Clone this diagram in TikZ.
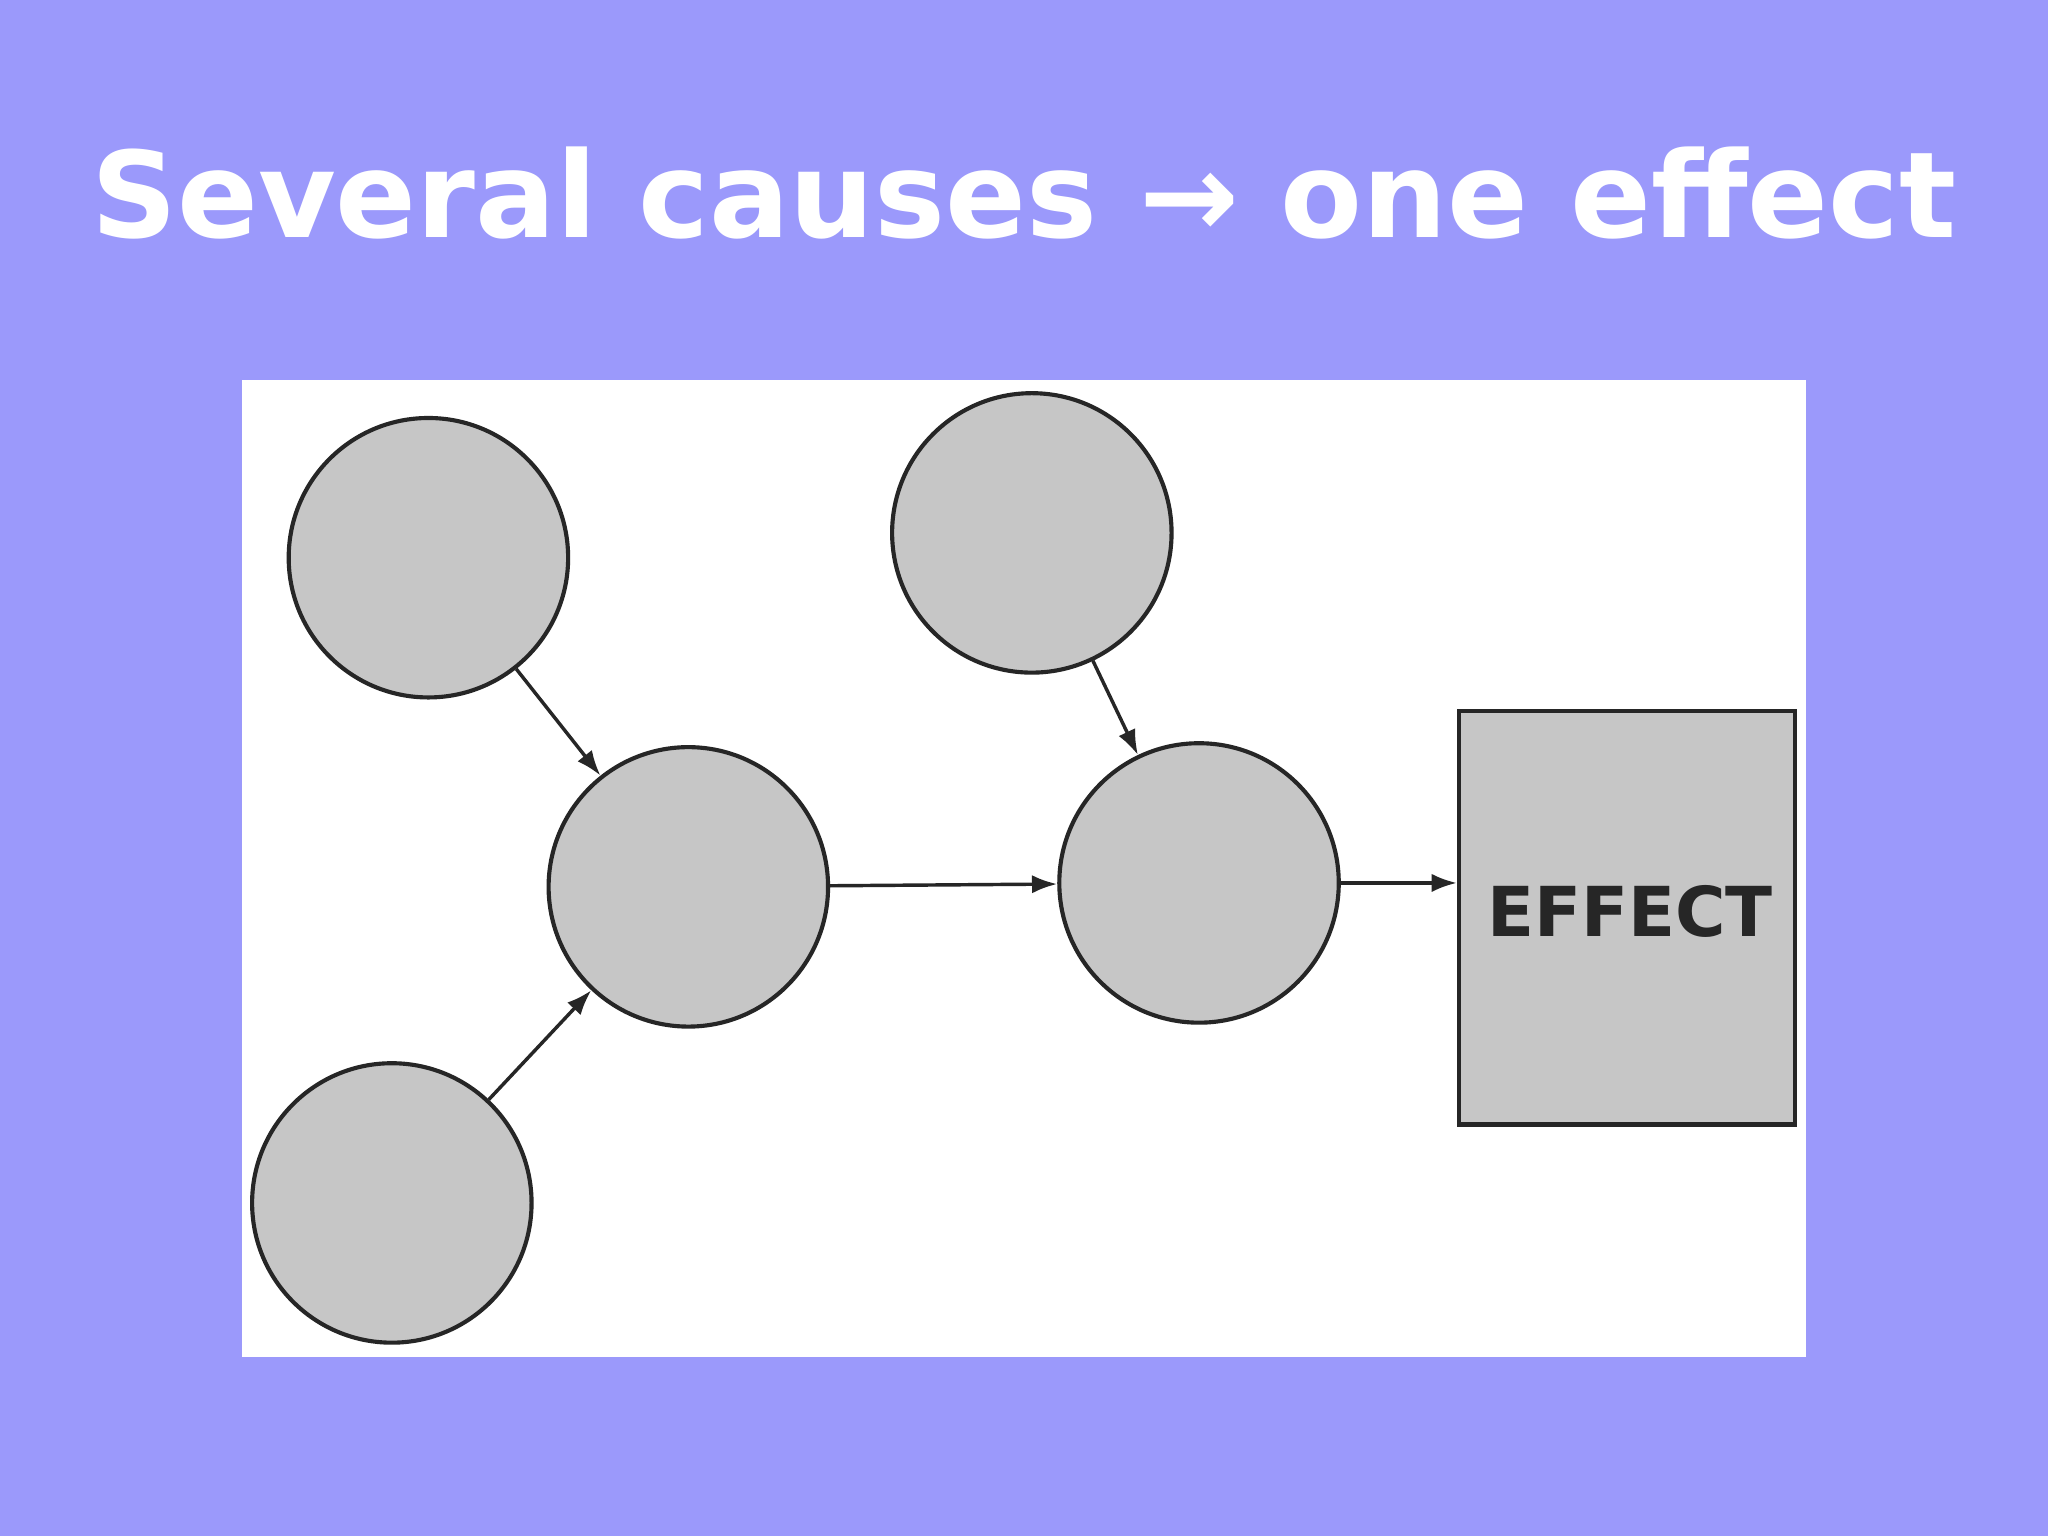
\documentclass[tikz,border=0pt]{standalone}
\usepackage{fontspec}
\setmainfont{DejaVu Sans}
\usetikzlibrary{arrows.meta}
\definecolor{bg}{RGB}{155,153,251}
\tikzset{
 cause/.style={circle,draw=black!85,line width=1.8pt,fill=gray!45,minimum size=4.28cm,inner sep=0pt},
 conn/.style={-{Latex[length=11pt,width=8pt]},line width=1.5pt,black!85}
}
\begin{document}
\begin{tikzpicture}[x=0.02cm,y=-0.02cm]
\fill[bg] (0,0) rectangle (1568,1176);
\useasboundingbox (0,0) rectangle (1568,1176);
\node[text=white,font=\bfseries\fontsize{52}{60}\selectfont] (title) at (784,148) {Several causes → one effect};
\fill[white] (185,291) rectangle (1383,1039);
\node[cause] (c1) at (328,427) {};
\node[cause] (c2) at (300,921) {};
\node[cause] (c3) at (527,679) {};
\node[cause] (c4) at (790,408) {};
\node[cause] (c5) at (918,676) {};
\node[draw=black!85,line width=1.8pt,fill=gray!45,minimum width=5.14cm,minimum height=6.34cm,inner sep=0pt,font=\bfseries\fontsize{30}{34}\selectfont,text=black!85] (eff) at (1245.5,702.5) {};
\node[font=\bfseries\fontsize{30}{34}\selectfont,text=black!85] (efft) at (1248,698) {EFFECT};
\draw[conn] (c1) -- (c3);
\draw[conn] (c2) -- (c3);
\draw[conn] (c3) -- (c5);
\draw[conn] (c4) -- (c5);
\draw[conn] (c5.east) -- (c5.east -| eff.west);
\end{tikzpicture}
\end{document}
